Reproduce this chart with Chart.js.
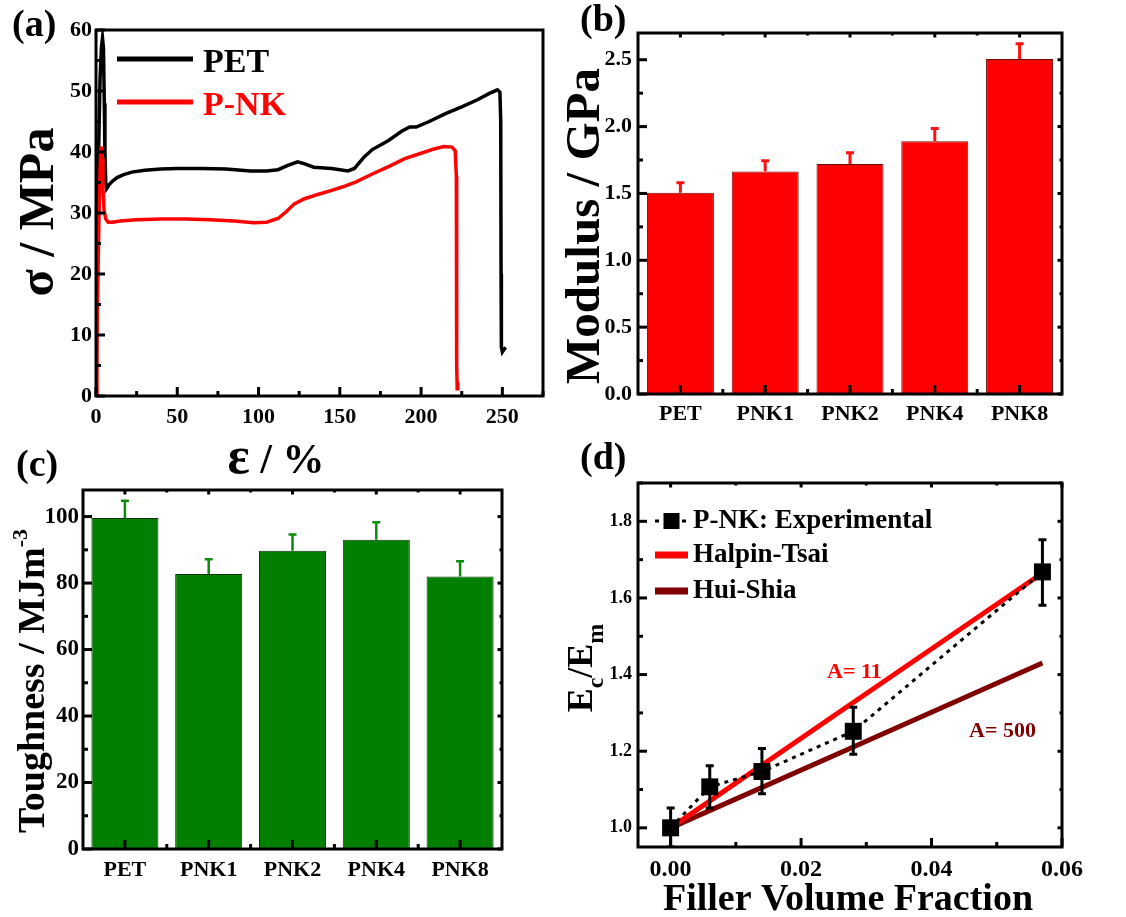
<!DOCTYPE html>
<html>
<head>
<meta charset="utf-8">
<script src="https://cdn.jsdelivr.net/npm/chart.js@4.4.1/dist/chart.umd.min.js"></script>
<style>
  html, body { margin: 0; padding: 0; background: #fff; }
  #wrap { position: relative; width: 1126px; height: 917px; }
  #wrap canvas { position: absolute; left: 0; top: 0; width: 1126px; height: 917px; }
</style>
</head>
<body>
<div id="wrap">
  <canvas id="tensileChart" width="1126" height="917"></canvas>
  <canvas id="modulusChart" width="1126" height="917"></canvas>
  <canvas id="toughnessChart" width="1126" height="917"></canvas>
  <canvas id="modelChart" width="1126" height="917"></canvas>
</div>
<script>
// (a) stress-strain curves
const petStrain = [0, 0.9, 1.6, 2.5, 3.3, 4.0, 4.6, 5.1, 5.5, 6.0, 6.5, 8, 10, 13, 17, 22, 30, 40, 50, 65, 80, 95, 105, 112, 118, 124, 128, 134, 145, 155, 159, 165, 170, 180, 188, 193, 197, 205, 215, 225, 235, 242, 247, 248.5, 249, 249.2, 249.4, 250, 251, 252];
const petStress = [0, 20, 40, 52, 57, 58.7, 57, 48, 40, 35, 34, 34.6, 35.2, 35.8, 36.3, 36.7, 37.0, 37.2, 37.3, 37.3, 37.2, 36.9, 36.9, 37.1, 37.8, 38.4, 38.1, 37.5, 37.3, 36.9, 37.3, 39.2, 40.4, 41.9, 43.4, 44.1, 44.1, 45.0, 46.3, 47.4, 48.6, 49.6, 50.2, 49.8, 45, 20, 8, 7.2, 7.6, 8.0];
const pnkStrain = [0, 0.6, 1.2, 1.9, 2.5, 3.1, 3.7, 4.3, 5.0, 6.0, 7.5, 10, 15, 25, 40, 55, 70, 85, 97, 105, 112, 117, 122, 128, 136, 145, 152, 160, 170, 180, 190, 200, 208, 214, 219, 221, 221.7, 221.8, 222, 222.2, 222.6];
const pnkStress = [0, 10, 20, 30, 37, 40.9, 39, 34, 30.5, 29, 28.5, 28.5, 28.7, 28.9, 29.0, 29.0, 28.9, 28.7, 28.4, 28.5, 29.1, 30.2, 31.5, 32.3, 33.0, 33.7, 34.3, 35.1, 36.4, 37.6, 38.9, 39.8, 40.5, 40.9, 40.8, 40.2, 36, 20, 5, 1.2, 2.3];

// (b), (c) bar charts
const sampleNames = ['PET', 'PNK1', 'PNK2', 'PNK4', 'PNK8'];
const modulus = [1.505, 1.665, 1.72, 1.89, 2.505];
const modulusErr = [0.075, 0.08, 0.085, 0.095, 0.115];
const toughness = [99.6, 82.7, 89.7, 93.0, 82.0];
const toughnessErr = [5.2, 4.5, 4.9, 5.3, 4.6];

// (d) modulus ratio vs filler fraction
const fillerFraction = [0, 0.006, 0.014, 0.028, 0.057];
const modulusRatio = [1.0, 1.107, 1.147, 1.252, 1.668];
const ratioErrUp = [0.052, 0.055, 0.06, 0.063, 0.084];
const ratioErrDown = [0.05, 0.055, 0.058, 0.06, 0.087];
const modelFraction = [0, 0.028, 0.057];
const halpinTsai = [1.0, 1.327, 1.665];
const huiShia = [1.0, 1.211, 1.43];

const FONT = '"Liberation Serif", "Times New Roman", serif';
Chart.defaults.font.family = FONT;
Chart.defaults.font.weight = 'bold';
Chart.defaults.color = '#000';

const zip = (xs, ys) => xs.map((x, i) => ({ x: x, y: ys[i] }));
const onStep = (v, step) => Math.abs(v / step - Math.round(v / step)) < 1e-6;

// pin the plot area to page coordinates (every canvas covers the page)
function area(left, top, right, bottom, yw, xh) {
  return { padding: { left: left - yw, top: top, right: 1126 - right, bottom: 917 - bottom - xh } };
}

// replace the generated ticks by plain multiples of the step inside [min, max]
const stepTicks = step => s => {
  const out = [];
  const k0 = Math.ceil(s.min / step - 1e-6), k1 = Math.floor(s.max / step + 1e-6);
  for (let k = k0; k <= k1; k++) out.push({ value: Number((k * step).toFixed(10)) });
  s.ticks = out;
};

function tickMarks(scale, step, minorStep) {
  const out = [];
  if (scale.type === 'category') {
    const n = scale.getLabels().length;
    for (let i = 0; i < n; i++) {
      out.push({ p: scale.getPixelForValue(i), major: true });
      if (i > 0) out.push({ p: (scale.getPixelForValue(i - 1) + scale.getPixelForValue(i)) / 2, major: false });
    }
    return out;
  }
  const k0 = Math.ceil(scale.min / minorStep - 1e-6), k1 = Math.floor(scale.max / minorStep + 1e-6);
  for (let k = k0; k <= k1; k++) {
    const v = k * minorStep;
    out.push({ p: scale.getPixelForValue(v), major: onStep(v, step) });
  }
  return out;
}

// frame box + inward tick marks
const frameTicks = {
  id: 'frameTicks',
  afterDraw(chart, args, o) {
    const ctx = chart.ctx, a = chart.chartArea;
    const big = 9, small = 5, w = 3, mirror = o.mirror || 0;
    ctx.save();
    ctx.fillStyle = '#000';
    ctx.strokeStyle = '#000';
    tickMarks(chart.scales.x, o.xStep, o.xMinor).forEach(t => {
      const len = t.major ? big : small;
      ctx.fillRect(t.p - w / 2, a.bottom - len, w, len);
      if (mirror) ctx.fillRect(t.p - w / 2, a.top, w, len * mirror);
    });
    tickMarks(chart.scales.y, o.yStep, o.yMinor).forEach(t => {
      const len = t.major ? big : small;
      ctx.fillRect(a.left, t.p - w / 2, len, w);
      if (mirror) ctx.fillRect(a.right - len * mirror, t.p - w / 2, len * mirror, w);
    });
    ctx.lineWidth = 3;
    ctx.strokeRect(a.left, a.top, a.right - a.left, a.bottom - a.top);
    ctx.restore();
  }
};

// error bars read from dataset.errorUp / dataset.errorDown
const errorBars = {
  id: 'errorBars',
  afterDatasetsDraw(chart) {
    const ctx = chart.ctx, a = chart.chartArea;
    chart.data.datasets.forEach((ds, i) => {
      if (!ds.errorUp) return;
      const meta = chart.getDatasetMeta(i);
      const ys = chart.scales[meta.yAxisID];
      ctx.save();
      ctx.beginPath();
      ctx.rect(a.left, a.top, a.right - a.left, a.bottom - a.top);
      ctx.clip();
      ctx.setLineDash([]);
      ctx.strokeStyle = ds.errorColor;
      ctx.lineWidth = ds.errorWidth || 2.5;
      const cw = ds.capHalf || 4;
      meta.data.forEach((el, j) => {
        const raw = ds.data[j];
        const v = typeof raw === 'object' ? raw.y : raw;
        const top = ys.getPixelForValue(v + ds.errorUp[j]);
        const bot = ds.errorDown ? ys.getPixelForValue(v - ds.errorDown[j]) : el.y;
        ctx.beginPath();
        ctx.moveTo(el.x, bot); ctx.lineTo(el.x, top);
        ctx.moveTo(el.x - cw, top); ctx.lineTo(el.x + cw, top);
        if (ds.errorDown) { ctx.moveTo(el.x - cw, bot); ctx.lineTo(el.x + cw, bot); }
        ctx.stroke();
      });
      ctx.restore();
    });
  }
};

// in-plot legends built from the datasets
const keys = {
  id: 'keys',
  afterDraw(chart, args, o) {
    if (!o.rows) return;
    const ctx = chart.ctx;
    o.rows.forEach(r => {
      const ds = chart.data.datasets[r.ds];
      ctx.save();
      ctx.strokeStyle = ds.borderColor;
      ctx.lineWidth = r.width || ds.borderWidth;
      ctx.setLineDash(ds.borderDash || []);
      ctx.beginPath(); ctx.moveTo(o.x1, r.y); ctx.lineTo(o.x2, r.y); ctx.stroke();
      ctx.setLineDash([]);
      if (ds.pointRadius) {
        const s = o.marker;
        ctx.fillStyle = ds.pointBackgroundColor;
        ctx.fillRect((o.x1 + o.x2) / 2 - s / 2, r.y - s / 2, s, s);
      }
      ctx.fillStyle = o.textColor || ds.borderColor;
      ctx.font = 'bold ' + o.size + 'px ' + FONT;
      ctx.textBaseline = 'alphabetic';
      ctx.fillText(ds.label, o.textX, r.y + o.dy);
      ctx.restore();
    });
  }
};

// free text: panel letters, axis titles with sub/superscripts, annotations
const texts = {
  id: 'texts',
  afterDraw(chart, args, o) {
    const ctx = chart.ctx;
    (o.items || []).forEach(it => {
      ctx.save();
      ctx.translate(it.x, it.y);
      if (it.rot) ctx.rotate(it.rot * Math.PI / 180);
      ctx.fillStyle = it.color || '#000';
      ctx.textBaseline = 'alphabetic';
      ctx.textAlign = 'left';
      const parts = it.parts || [{ t: it.text, size: it.size }];
      const widths = parts.map(p => { ctx.font = 'bold ' + p.size + 'px ' + FONT; return ctx.measureText(p.t).width; });
      const total = widths.reduce((s, w) => s + w, 0);
      let x = it.align === 'center' ? -total / 2 : 0;
      parts.forEach((p, i) => { ctx.font = 'bold ' + p.size + 'px ' + FONT; ctx.fillText(p.t, x, p.dy || 0); x += widths[i]; });
      ctx.restore();
    });
  }
};

const base = { responsive: false, animation: false, devicePixelRatio: 1 };
const hidden = { legend: { display: false }, tooltip: { enabled: false } };
const gridOff = () => ({ display: false, drawTicks: false });
const borderOff = () => ({ display: false });
const fixed = digits => v => digits ? Number(v).toFixed(digits) : String(Math.round(v));

// (a) Stress-strain
new Chart(document.getElementById('tensileChart'), {
  type: 'line',
  data: {
    datasets: [
      { label: 'PET', data: zip(petStrain, petStress), borderColor: '#000000', borderWidth: 3.5, pointRadius: 0, tension: 0, order: 1 },
      { label: 'P-NK', data: zip(pnkStrain, pnkStress), borderColor: '#ff0000', borderWidth: 3.5, pointRadius: 0, tension: 0, order: 0 }
    ]
  },
  options: Object.assign({}, base, {
    layout: area(96, 30, 543, 396, 90, 60),
    plugins: Object.assign({}, hidden, {
      frameTicks: { xStep: 50, xMinor: 25, yStep: 10, yMinor: 5 },
      keys: { x1: 117, x2: 193, textX: 203, size: 34, dy: 13, rows: [{ ds: 0, y: 59, width: 5 }, { ds: 1, y: 102, width: 5 }] },
      texts: { items: [
        { text: '(a)', size: 38, x: 12, y: 36 },
        { text: 'σ / MPa', size: 50, x: 53, y: 212, rot: -90, align: 'center' },
        { parts: [{ t: 'ε', size: 52 }, { t: ' / %', size: 42 }], x: 276, y: 473, align: 'center' }
      ] }
    }),
    scales: {
      x: { type: 'linear', min: 0, max: 275, grid: gridOff(), border: borderOff(),
        ticks: { autoSkip: false, padding: 8, font: { size: 22 }, callback: fixed(0) },
        afterBuildTicks: stepTicks(50), afterFit(s) { s.height = 60; } },
      y: { min: 0, max: 60, grid: gridOff(), border: borderOff(),
        ticks: { autoSkip: false, padding: 4, font: { size: 22 }, callback: fixed(0) },
        afterBuildTicks: stepTicks(10), afterFit(s) { s.width = 90; } }
    }
  }),
  plugins: [frameTicks, keys, texts]
});

// (b) Modulus
new Chart(document.getElementById('modulusChart'), {
  type: 'bar',
  data: {
    labels: sampleNames,
    datasets: [{
      label: 'Modulus', data: modulus, backgroundColor: '#ff0000', borderColor: '#6a0a0a', borderWidth: 1,
      barPercentage: 0.79, categoryPercentage: 1,
      errorUp: modulusErr, errorColor: '#ff1010', errorWidth: 3, capHalf: 4
    }]
  },
  options: Object.assign({}, base, {
    layout: area(638, 33, 1062, 394, 75, 40),
    plugins: Object.assign({}, hidden, {
      frameTicks: { yStep: 0.5, yMinor: 0.25, mirror: 0.5 },
      texts: { items: [
        { text: '(b)', size: 38, x: 580, y: 31 },
        { text: 'Modulus / GPa', size: 49, x: 599, y: 226, rot: -90, align: 'center' }
      ] }
    }),
    scales: {
      x: { grid: gridOff(), border: borderOff(), ticks: { padding: 7, font: { size: 22 } }, afterFit(s) { s.height = 40; } },
      y: { min: 0, max: 2.7, grid: gridOff(), border: borderOff(),
        ticks: { autoSkip: false, padding: 6, font: { size: 22 }, callback: fixed(1) },
        afterBuildTicks: stepTicks(0.5), afterFit(s) { s.width = 75; } }
    }
  }),
  plugins: [errorBars, frameTicks, texts]
});

// (c) Toughness
new Chart(document.getElementById('toughnessChart'), {
  type: 'bar',
  data: {
    labels: sampleNames,
    datasets: [{
      label: 'Toughness', data: toughness, backgroundColor: '#007f00', borderColor: '#103010', borderWidth: 1,
      barPercentage: 0.8, categoryPercentage: 1,
      errorUp: toughnessErr, errorColor: '#0c8c0c', errorWidth: 2.5, capHalf: 4
    }]
  },
  options: Object.assign({}, base, {
    layout: area(83, 490, 502, 849, 80, 40),
    plugins: Object.assign({}, hidden, {
      frameTicks: { yStep: 20, yMinor: 10, mirror: 0.5 },
      texts: { items: [
        { text: '(c)', size: 38, x: 16, y: 476 },
        { parts: [{ t: 'Toughness / MJm', size: 38 }, { t: '-3', size: 22, dy: -17 }], x: 44, y: 681, rot: -90, align: 'center' }
      ] }
    }),
    scales: {
      x: { grid: gridOff(), border: borderOff(), ticks: { padding: 8, font: { size: 22 } }, afterFit(s) { s.height = 40; } },
      y: { min: 0, max: 108, grid: gridOff(), border: borderOff(),
        ticks: { autoSkip: false, padding: 4, font: { size: 23 }, callback: fixed(0) },
        afterBuildTicks: stepTicks(20), afterFit(s) { s.width = 80; } }
    }
  }),
  plugins: [errorBars, frameTicks, texts]
});

// (d) Experimental vs models
new Chart(document.getElementById('modelChart'), {
  type: 'line',
  data: {
    datasets: [
      { label: 'P-NK: Experimental', data: zip(fillerFraction, modulusRatio), borderColor: '#000', borderWidth: 3, borderDash: [4, 5],
        pointStyle: 'rect', pointRadius: 12, pointBackgroundColor: '#000', pointBorderColor: '#000', pointBorderWidth: 0,
        errorUp: ratioErrUp, errorDown: ratioErrDown, errorColor: '#000', errorWidth: 3, capHalf: 4, order: 1 },
      { label: 'Halpin-Tsai', data: zip(modelFraction, halpinTsai), borderColor: '#ff0000', borderWidth: 5, pointRadius: 0, order: 2 },
      { label: 'Hui-Shia', data: zip(modelFraction, huiShia), borderColor: '#800000', borderWidth: 5, pointRadius: 0, order: 3 }
    ]
  },
  options: Object.assign({}, base, {
    layout: area(638, 483, 1062, 847, 75, 40),
    plugins: Object.assign({}, hidden, {
      frameTicks: { xStep: 0.02, xMinor: 0.01, yStep: 0.2, yMinor: 0.1, mirror: 0.5 },
      keys: { x1: 655, x2: 688, textX: 693, size: 27, dy: 6.5, textColor: '#000', marker: 16,
        rows: [{ ds: 0, y: 521 }, { ds: 1, y: 555, width: 7 }, { ds: 2, y: 591, width: 7 }] },
      texts: { items: [
        { text: '(d)', size: 38, x: 580, y: 469 },
        { parts: [{ t: 'E', size: 36 }, { t: 'c', size: 24, dy: 11 }, { t: '/E', size: 36 }, { t: 'm', size: 24, dy: 11 }],
          x: 592, y: 668, rot: -90, align: 'center' },
        { text: 'Filler Volume Fraction', size: 38, x: 848, y: 910, align: 'center' },
        { text: 'A= 11', size: 22, x: 827, y: 678, color: '#ff0000' },
        { text: 'A= 500', size: 22, x: 969, y: 737, color: '#800000' }
      ] }
    }),
    scales: {
      x: { type: 'linear', min: -0.005, max: 0.06, grid: gridOff(), border: borderOff(),
        ticks: { autoSkip: false, padding: 8, font: { size: 24 }, callback: fixed(2) },
        afterBuildTicks: stepTicks(0.02), afterFit(s) { s.height = 40; } },
      y: { min: 0.95, max: 1.9, grid: gridOff(), border: borderOff(),
        ticks: { autoSkip: false, padding: 6, font: { size: 18 }, callback: fixed(1) },
        afterBuildTicks: stepTicks(0.2), afterFit(s) { s.width = 75; } }
    }
  }),
  plugins: [errorBars, frameTicks, keys, texts]
});
</script>
</body>
</html>
